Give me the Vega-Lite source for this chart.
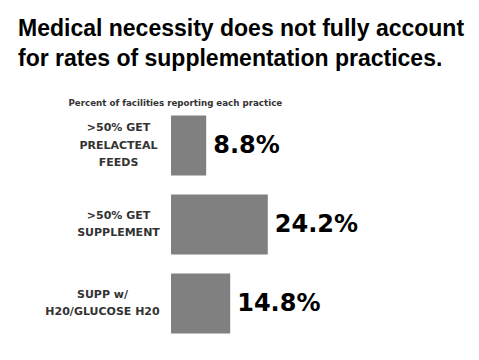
{
  "$schema": "https://vega.github.io/schema/vega-lite/v6.json",
  "autosize": "none",
  "width": 308,
  "height": 237,
  "padding": {"left": 171, "top": 106, "right": 0, "bottom": 17},
  "background": "white",
  "config": {"view": {"stroke": null}},
  "title": {
    "text": ["Medical necessity does not fully account", "for rates of supplementation practices."],
    "anchor": "start",
    "frame": "group",
    "dx": -153,
    "font": "Liberation Sans",
    "fontSize": 23,
    "fontWeight": "bold",
    "color": "black",
    "lineHeight": 30,
    "offset": 27
  },
  "data": {
    "values": [
      {"practice": ">50% GET|PRELACTEAL|FEEDS", "pct": 0.088},
      {"practice": ">50% GET|SUPPLEMENT", "pct": 0.242},
      {"practice": "SUPP w/|H20/GLUCOSE H20", "pct": 0.148}
    ]
  },
  "encoding": {
    "y": {
      "field": "practice",
      "type": "nominal",
      "sort": null,
      "scale": {"paddingInner": 0.24, "paddingOuter": 0.12},
      "axis": {
        "title": null,
        "domain": false,
        "ticks": false,
        "labelExpr": "split(datum.label, '|')",
        "labelAlign": "center",
        "labelBaseline": "middle",
        "labelPadding": {"expr": "datum.value === 'SUPP w/|H20/GLUCOSE H20' ? 69 : 53"},
        "labelOffset": {"expr": "-(length(split(datum.value, '|')) - 1) * 8.75"},
        "labelFont": "DejaVu Sans",
        "labelFontSize": 11,
        "labelFontWeight": "bold",
        "labelColor": "#333333",
        "labelLineHeight": 17.5,
        "labelLimit": 200
      }
    },
    "x": {
      "field": "pct",
      "type": "quantitative",
      "scale": {"domain": [0, 0.77], "nice": false},
      "axis": {
        "orient": "top",
        "title": "Percent of facilities reporting each practice",
        "titleFont": "DejaVu Sans",
        "titleFontSize": 8.7,
        "titleFontWeight": "bold",
        "titleColor": "#333333",
        "titleAnchor": "start",
        "titleAlign": "left",
        "titleX": -103,
        "titleY": -1,
        "titleBaseline": "alphabetic",
        "domain": false,
        "ticks": false,
        "labels": false,
        "grid": false
      }
    }
  },
  "layer": [
    {"mark": {"type": "bar", "color": "#808080"}},
    {
      "mark": {"type": "text", "align": "left", "baseline": "middle", "dx": 7, "font": "DejaVu Sans", "fontSize": 24, "fontWeight": "bold", "color": "black"},
      "encoding": {"text": {"field": "pct", "type": "quantitative", "format": ".1%"}}
    }
  ]
}
